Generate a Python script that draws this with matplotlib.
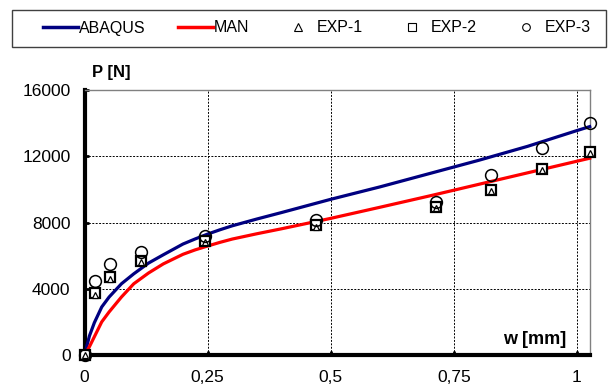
import matplotlib
matplotlib.use("Agg")
import matplotlib.pyplot as plt
from matplotlib.lines import Line2D
from matplotlib.patches import Rectangle

plt.rcParams['font.family'] = ['Liberation Sans', 'DejaVu Sans']

# numerical curves
w_num = [0, 0.01, 0.02, 0.035, 0.05, 0.075, 0.1, 0.13, 0.16, 0.2, 0.225, 0.25,
         0.275, 0.3, 0.35, 0.4, 0.5, 0.6, 0.7, 0.8, 0.9, 1.0, 1.026]
p_abaqus = [0, 1150, 1950, 2900, 3500, 4300, 4900, 5550, 6050, 6700, 7010, 7300,
            7560, 7800, 8210, 8600, 9400, 10150, 10950, 11750, 12600, 13550, 13790]
p_man = [0, 500, 1100, 2000, 2600, 3500, 4300, 4950, 5500, 6080, 6350, 6580,
         6800, 7000, 7320, 7620, 8250, 8920, 9600, 10300, 11000, 11700, 11880]

# experiments
w_exp = [0, 0.021, 0.052, 0.114, 0.245, 0.470, 0.714, 0.825, 0.929, 1.026]
p_exp1 = [0, 3650, 4600, 5600, 6800, 7750, 8900, 9900, 11150, 12200]
p_exp2 = [0, 3725, 4690, 5690, 6900, 7850, 8950, 9960, 11250, 12275]
p_exp3 = [0, 4490, 5500, 6240, 7190, 8150, 9260, 10850, 12480, 14030]

xticks = [0, 0.25, 0.5, 0.75, 1]
xlabels = ['0', '0,25', '0,5', '0,75', '1']
yticks = [0, 4000, 8000, 12000, 16000]

fig = plt.figure(figsize=(6.13, 3.87), dpi=100)
ax = fig.add_axes([84.5 / 613, 32 / 387, 505.5 / 613, 265 / 387])

l1, = ax.plot(w_num, p_abaqus, color='#000080', lw=2.3, clip_on=False, zorder=3)
l2, = ax.plot(w_num, p_man, color='#ff0000', lw=2.3, clip_on=False, zorder=3)

ax.plot(w_exp, p_exp2, ls='none', marker='s', ms=7.5, mfc='white', mec='black',
        mew=1.6, clip_on=False, zorder=5)
ax.plot(w_exp, p_exp1, ls='none', marker='^', ms=5, mfc='white', mec='black',
        mew=0.9, clip_on=False, zorder=6)
ax.plot(w_exp, p_exp3, ls='none', marker='o', ms=8.5, mfc='none', mec='black',
        mew=1.1, clip_on=False, zorder=6)

ax.set_xlim(0, 1.0266)
ax.set_ylim(0, 16000)
ax.set_xticks(xticks)
ax.set_xticklabels(xlabels)
ax.set_yticks(yticks)

ax.grid(True, color='black', lw=0.7, ls=(0, (2, 1.5)))
ax.tick_params(direction='in', length=3, width=2, labelsize=12.5, pad=10)
ax.tick_params(axis='x', pad=11)

for s in ['left', 'bottom']:
    ax.spines[s].set_linewidth(3)
    ax.spines[s].set_color('black')
for s in ['top', 'right']:
    ax.spines[s].set_linewidth(1)
    ax.spines[s].set_color('#808080')

fig.text(92 / 613, 1 - 72 / 387, 'P [N]', fontsize=12, fontweight='bold',
         ha='left', va='center')
ax.text(0.9525, 0.057, 'w [mm]', transform=ax.transAxes, fontsize=13,
        fontweight='bold', ha='right', va='center')

# legend
fig.patches.append(Rectangle((12 / 613, 1 - 47 / 387), 594 / 613, 37 / 387,
                             transform=fig.transFigure, fill=False,
                             edgecolor='#404040', lw=1))
handles = [
    Line2D([], [], color='#000080', lw=2.5),
    Line2D([], [], color='#ff0000', lw=2.5),
    Line2D([], [], ls='none', marker='^', ms=6, mfc='white', mec='black', mew=0.8),
    Line2D([], [], ls='none', marker='s', ms=6, mfc='white', mec='black', mew=0.8),
    Line2D([], [], ls='none', marker='o', ms=5.5, mfc='white', mec='black', mew=0.8),
]
labels = ['ABAQUS', 'MAN', 'EXP-1', 'EXP-2', 'EXP-3']
fig.legend(handles, labels, ncol=5, loc='center left',
           bbox_to_anchor=(43 / 613, 1 - 28 / 387), frameon=False,
           borderpad=0, borderaxespad=0, handlelength=2.2, handletextpad=0.05,
           columnspacing=2.0, fontsize=11.5)

fig.savefig('out.png', dpi=100)
